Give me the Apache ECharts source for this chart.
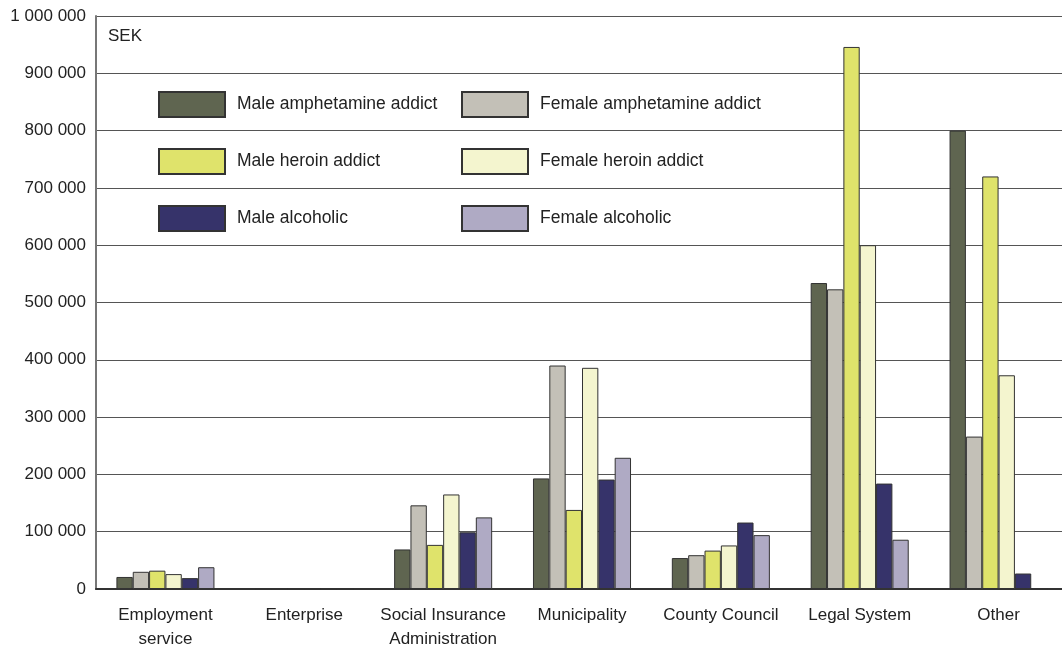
<!DOCTYPE html>
<html>
<head>
<meta charset="utf-8">
<script src="https://cdn.jsdelivr.net/npm/echarts@6/dist/echarts.min.js"></script>
<style>
html,body{margin:0;padding:0;background:#fff;overflow:hidden;}
#chart{width:1068px;height:652px;}
</style>
</head>
<body>
<div id="chart"></div>
<script>
const categories = ['Employment\nservice', 'Enterprise', 'Social Insurance\nAdministration', 'Municipality', 'County Council', 'Legal System', 'Other'];
const seriesNames = ['Male amphetamine addict', 'Female amphetamine addict', 'Male heroin addict', 'Female heroin addict', 'Male alcoholic', 'Female alcoholic'];
const maleAmphetamine   = [21000, 0, 69000, 193000, 54000, 534000, 800000];
const femaleAmphetamine = [30000, 0, 146000, 390000, 59000, 523000, 266000];
const maleHeroin        = [32000, 0, 77000, 138000, 67000, 946000, 720000];
const femaleHeroin      = [26000, 0, 165000, 386000, 76000, 600000, 373000];
const maleAlcoholic     = [19000, 0, 99000, 191000, 116000, 184000, 27000];
const femaleAlcoholic   = [38000, 0, 125000, 229000, 94000, 86000, 0];
const yTicks = [0, 100000, 200000, 300000, 400000, 500000, 600000, 700000, 800000, 900000, 1000000];

const colors = ['#5f6550', '#c3c0b7', '#dfe36b', '#f4f5cf', '#36336a', '#afaac4'];
const values = [maleAmphetamine, femaleAmphetamine, maleHeroin, femaleHeroin, maleAlcoholic, femaleAlcoholic];
const FONT = "'Liberation Sans', Arial, sans-serif";

const chart = echarts.init(document.getElementById('chart'), null, {renderer: 'canvas'});

function fmt(v) {
  return String(v).replace(/\B(?=(\d{3})+(?!\d))/g, ' ');
}

const legendCommon = {
  orient: 'vertical',
  itemWidth: 66,
  itemHeight: 25,
  itemGap: 30,
  top: 86,
  icon: 'rect',
  textStyle: {fontFamily: FONT, fontSize: 17.5, color: '#222', padding: [0, 0, 0, 7]},
  selectedMode: false
};

chart.setOption({
  animation: false,
  color: colors,
  grid: {left: 96, top: 16, right: 0, bottom: 63, containLabel: false},
  legend: [
    Object.assign({}, legendCommon, {left: 153, data: [seriesNames[0], seriesNames[2], seriesNames[4]]}),
    Object.assign({}, legendCommon, {left: 456, data: [seriesNames[1], seriesNames[3], seriesNames[5]]})
  ],
  graphic: [{
    type: 'text', left: 108, top: 28,
    style: {text: 'SEK', font: '17px ' + FONT, fill: '#222'}
  }],
  xAxis: {
    type: 'category',
    data: categories,
    axisLine: {lineStyle: {color: '#333', width: 2}},
    axisTick: {show: false},
    axisLabel: {fontFamily: FONT, fontSize: 17, color: '#222', margin: 14, lineHeight: 24, interval: 0}
  },
  yAxis: {
    type: 'value',
    min: 0, max: 1000000, interval: 100000,
    axisLine: {show: true, lineStyle: {color: '#777', width: 2}},
    axisTick: {show: false},
    splitLine: {lineStyle: {color: '#555', width: 1}},
    axisLabel: {fontFamily: FONT, fontSize: 17, color: '#222', margin: 10,
      formatter: function (v) { return yTicks.indexOf(v) >= 0 ? fmt(v) : ''; }}
  },
  series: seriesNames.map(function (name, i) {
    return {
      name: name,
      type: 'bar',
      data: values[i],
      barGap: '0%',
      barCategoryGap: '29.4%',
      itemStyle: {color: colors[i], borderColor: '#333', borderWidth: 1}
    };
  })
});
</script>
</body>
</html>
